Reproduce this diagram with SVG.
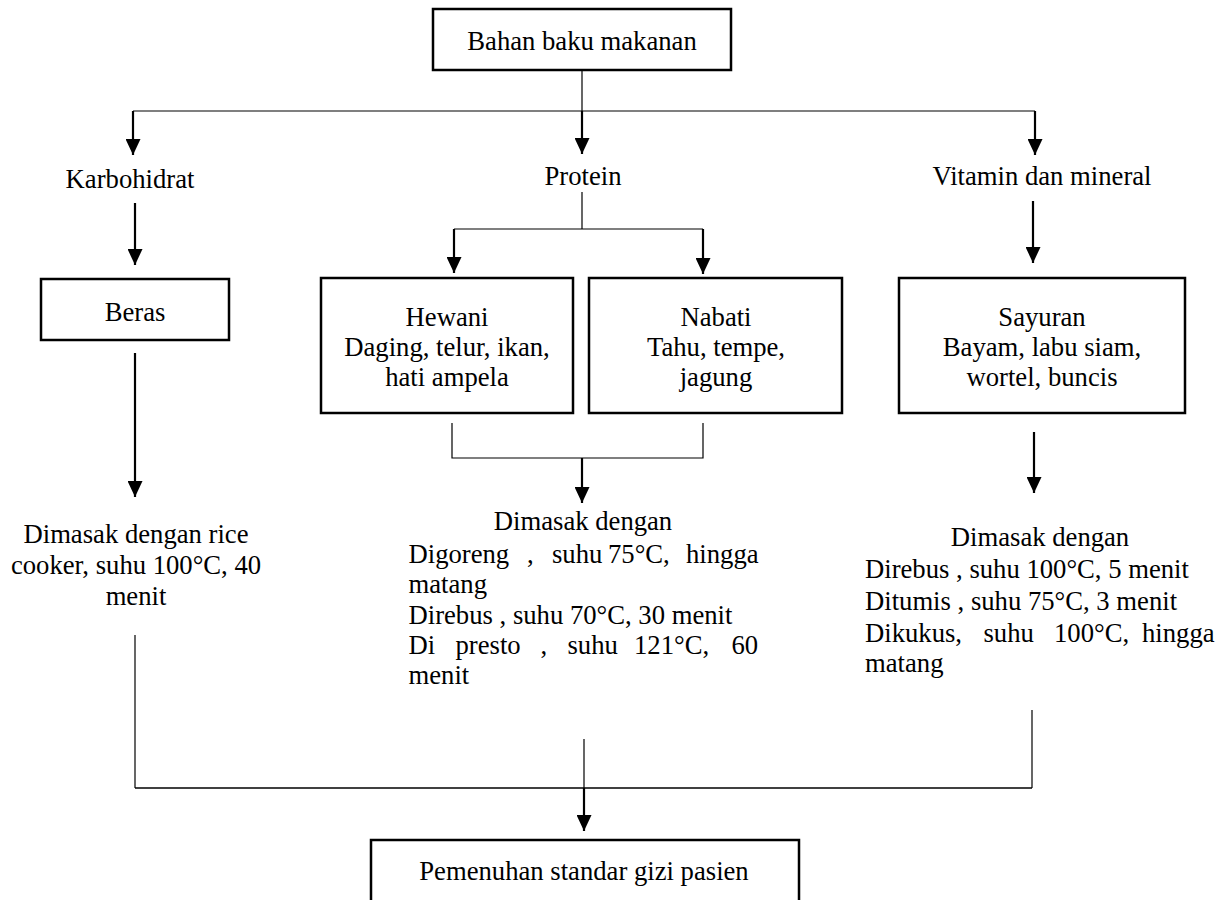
<svg xmlns="http://www.w3.org/2000/svg" width="1225" height="900" viewBox="0 0 1225 900">
<style>
  text { font-family: "Liberation Serif", "Times New Roman", serif; font-size: 26.67px; fill: #000; }
  .c { text-anchor: middle; }
  .box { fill: #fff; stroke: #000; stroke-width: 2.5; }
  .thin { fill: none; stroke: #000; stroke-width: 1.2; }
  .arr { fill: none; stroke: #000; stroke-width: 2.2; marker-end: url(#ah); }
</style>
<defs>
  <marker id="ah" markerUnits="userSpaceOnUse" markerWidth="16" markerHeight="15" refX="16" refY="7.5" orient="auto">
    <path d="M0,0 L16,7.5 L0,15 z" fill="#000"/>
  </marker>
</defs>
<rect width="1225" height="900" fill="#fff"/>

<g id="connectors">
  <line class="thin" x1="582" y1="70" x2="582" y2="111"/>
  <line class="thin" x1="133" y1="111" x2="1035" y2="111"/>
  <line class="arr" x1="133" y1="111" x2="133" y2="155"/>
  <line class="arr" x1="582" y1="111" x2="582" y2="154"/>
  <line class="arr" x1="1035" y1="111" x2="1035" y2="155"/>
  <line class="arr" x1="135" y1="203" x2="135" y2="265"/>
  <line class="thin" x1="582" y1="192" x2="582" y2="229"/>
  <line class="thin" x1="454" y1="229" x2="703" y2="229"/>
  <line class="arr" x1="454" y1="229" x2="454" y2="273"/>
  <line class="arr" x1="703" y1="229" x2="703" y2="274"/>
  <line class="arr" x1="1033" y1="201" x2="1033" y2="263"/>
  <line class="arr" x1="135" y1="353" x2="135" y2="497"/>
  <polyline class="thin" points="452,423 452,458 703,458 703,423"/>
  <line class="arr" x1="582" y1="458" x2="582" y2="503"/>
  <line class="arr" x1="1034" y1="432" x2="1034" y2="493"/>
  <line class="thin" x1="135" y1="635" x2="135" y2="788"/>
  <line class="thin" x1="1032" y1="710" x2="1032" y2="788"/>
  <line class="thin" x1="135" y1="788" x2="1032" y2="788" style="stroke-width:1.6"/>
  <line class="thin" x1="584" y1="739" x2="584" y2="788"/>
  <line class="arr" x1="584" y1="788" x2="584" y2="831"/>
</g>

<g id="bahan">
  <rect class="box" x="433" y="9" width="298" height="61"/>
  <text class="c" x="582" y="50">Bahan baku makanan</text>
</g>

<g id="karbohidrat">
  <text class="c" x="130" y="188">Karbohidrat</text>
</g>
<g id="protein">
  <text class="c" x="583" y="185">Protein</text>
</g>
<g id="vitamin">
  <text class="c" x="1042" y="185">Vitamin dan mineral</text>
</g>

<g id="beras">
  <rect class="box" x="41" y="279" width="188" height="61"/>
  <text class="c" x="135" y="321">Beras</text>
</g>

<g id="hewani">
  <rect class="box" x="321" y="278" width="252" height="135"/>
  <text class="c" x="447" y="326">Hewani</text>
  <text class="c" x="447" y="356">Daging, telur, ikan,</text>
  <text class="c" x="447" y="386">hati ampela</text>
</g>

<g id="nabati">
  <rect class="box" x="589" y="278" width="253" height="135"/>
  <text class="c" x="716" y="326">Nabati</text>
  <text class="c" x="716" y="356">Tahu, tempe,</text>
  <text class="c" x="716" y="386">jagung</text>
</g>

<g id="sayuran">
  <rect class="box" x="899" y="278" width="286" height="135"/>
  <text class="c" x="1042" y="326">Sayuran</text>
  <text class="c" x="1042" y="356">Bayam, labu siam,</text>
  <text class="c" x="1042" y="386">wortel, buncis</text>
</g>

<g id="masak-karbo">
  <text class="c" x="136" y="543">Dimasak dengan rice</text>
  <text class="c" x="136" y="574">cooker, suhu 100°C, 40</text>
  <text class="c" x="136" y="605">menit</text>
</g>

<g id="masak-protein">
  <text class="c" x="583" y="530">Dimasak dengan</text>
  <text y="563"><tspan x="408.5">Digoreng</tspan><tspan x="527">,</tspan><tspan x="552">suhu</tspan><tspan x="608">75°C,</tspan><tspan x="686">hingga</tspan></text>
  <text x="408.5" y="593">matang</text>
  <text x="408.5" y="624">Direbus , suhu 70°C, 30 menit</text>
  <text y="654"><tspan x="408.5">Di</tspan><tspan x="455.5">presto</tspan><tspan x="540.5">,</tspan><tspan x="567.5">suhu</tspan><tspan x="634">121°C,</tspan><tspan x="731.5">60</tspan></text>
  <text x="408.5" y="684">menit</text>
</g>

<g id="masak-vitamin">
  <text class="c" x="1040" y="546">Dimasak dengan</text>
  <text x="865" y="578">Direbus , suhu 100°C, 5 menit</text>
  <text x="865" y="610">Ditumis , suhu 75°C, 3 menit</text>
  <text y="642"><tspan x="865">Dikukus,</tspan><tspan x="983.5">suhu</tspan><tspan x="1054">100°C,</tspan><tspan x="1142">hingga</tspan></text>
  <text x="865" y="672">matang</text>
</g>

<g id="pemenuhan">
  <rect class="box" x="371" y="840" width="428" height="80"/>
  <text class="c" x="584" y="880">Pemenuhan standar gizi pasien</text>
</g>
</svg>
